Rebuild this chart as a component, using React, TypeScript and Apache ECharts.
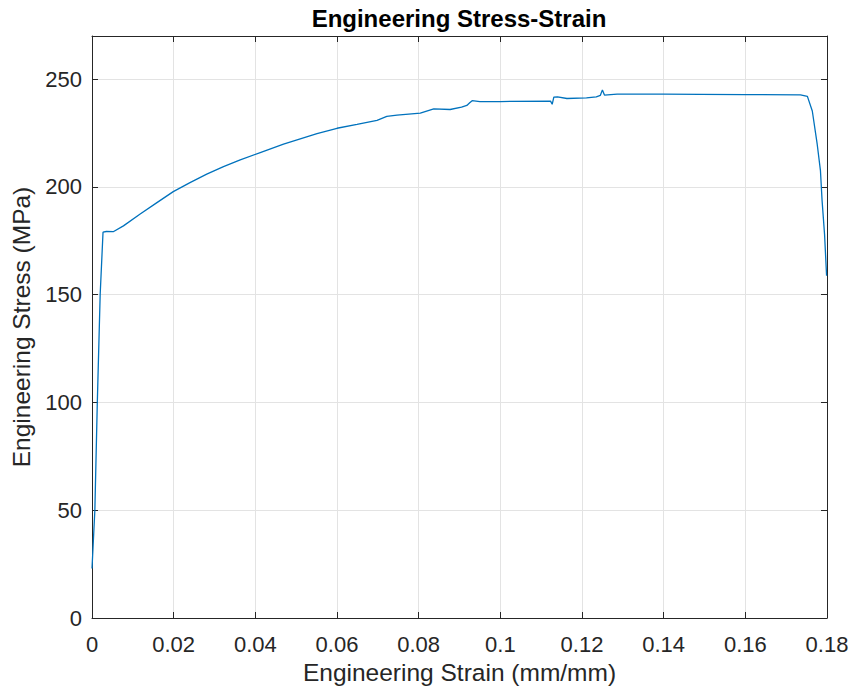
import React, { useEffect, useRef } from "react";
import * as echarts from "echarts";

const strain = [
  0, 0.0007, 0.0013, 0.002, 0.0027, 0.0035, 0.0052, 0.0077, 0.0118, 0.0159,
  0.0199, 0.024, 0.0281, 0.0322, 0.0363, 0.0412, 0.0469, 0.0551, 0.06, 0.0649,
  0.0698, 0.0722, 0.0747, 0.0804, 0.0837, 0.0877, 0.0905, 0.0918, 0.0925, 0.0931,
  0.095, 0.1, 0.1123, 0.1127, 0.1131, 0.114, 0.1163, 0.1211, 0.1235, 0.1245,
  0.125, 0.1255, 0.1286, 0.14, 0.149, 0.16, 0.1735, 0.1752, 0.1764, 0.1776,
  0.1784, 0.1788, 0.1794, 0.1799,
];
const stress = [
  23, 50, 100, 150, 179, 179.3, 179.2, 181.9, 187.4, 192.7,
  197.8, 202, 205.9, 209.4, 212.5, 215.9, 219.8, 224.7, 227.2, 229,
  230.9, 232.7, 233.3, 234.2, 236.2, 235.9, 237, 237.8, 239, 240,
  239.6, 239.6, 239.8, 238.3, 241.6, 241.8, 241, 241.3, 241.8, 242.5,
  245, 242.6, 243, 243, 242.9, 242.8, 242.7, 242, 235.2, 219.8,
  207.4, 193.5, 178, 158.8,
];
const xTicks = ["0", "0.02", "0.04", "0.06", "0.08", "0.1", "0.12", "0.14", "0.16", "0.18"];
const yTicks = ["0", "50", "100", "150", "200", "250"];

const titleText = "Engineering Stress-Strain";
const xName = "Engineering Strain (mm/mm)";
const yName = "Engineering Stress (MPa)";

const FONT = "'Liberation Sans', Arial, Helvetica, sans-serif";
const TXT = "#262626";

export default function App() {
  const ref = useRef<HTMLDivElement>(null);
  useEffect(() => {
    if (!ref.current) return;
    const chart = echarts.init(ref.current, undefined, { renderer: "svg" });
    const data = strain.map((s, i) => [s, stress[i]]);
    const xLabel = (v: number) => {
      const idx = Math.round(v / 0.02);
      return Math.abs(v - idx * 0.02) < 1e-9 && xTicks[idx] !== undefined ? xTicks[idx] : "";
    };
    const yLabel = (v: number) => {
      const idx = Math.round(v / 50);
      return Math.abs(v - idx * 50) < 1e-9 && yTicks[idx] !== undefined ? yTicks[idx] : "";
    };
    const axisLine = { show: true, onZero: false, lineStyle: { color: TXT, width: 1 } };
    const tick = { show: true, inside: true, length: 6, lineStyle: { color: TXT, width: 1 } };
    chart.setOption({
      animation: false,
      backgroundColor: "#ffffff",
      grid: { left: 92, right: 26, top: 36, bottom: 76, containLabel: false },
      graphic: [
        {
          type: "text",
          x: 459,
          y: 18,
          style: {
            text: titleText,
            fill: "#000000",
            font: `bold 24px ${FONT}`,
            textAlign: "center",
            textVerticalAlign: "middle",
          },
        },
      ],
      xAxis: [
        {
          type: "value",
          min: 0,
          max: 0.18,
          interval: 0.02,
          position: "bottom",
          name: xName,
          nameLocation: "middle",
          nameGap: 42,
          nameTextStyle: { color: TXT, fontSize: 24.5, fontFamily: FONT },
          axisLine,
          axisTick: tick,
          axisLabel: {
            color: TXT,
            fontSize: 22,
            fontFamily: FONT,
            margin: 15,
            showMaxLabel: true,
            showMinLabel: true,
            formatter: xLabel,
          },
          splitLine: { show: true, lineStyle: { color: "#e3e3e3", width: 1 } },
        },
        {
          type: "value",
          min: 0,
          max: 0.18,
          interval: 0.02,
          position: "top",
          axisLine,
          axisTick: tick,
          axisLabel: { show: false },
          splitLine: { show: false },
        },
      ],
      yAxis: [
        {
          type: "value",
          min: 0,
          max: 270,
          interval: 50,
          position: "left",
          name: yName,
          nameLocation: "middle",
          nameGap: 55,
          nameTextStyle: { color: TXT, fontSize: 24.5, fontFamily: FONT },
          axisLine,
          axisTick: tick,
          axisLabel: {
            color: TXT,
            fontSize: 22,
            fontFamily: FONT,
            margin: 10,
            formatter: yLabel,
          },
          splitLine: { show: true, lineStyle: { color: "#e3e3e3", width: 1 } },
        },
        {
          type: "value",
          min: 0,
          max: 270,
          interval: 50,
          position: "right",
          axisLine,
          axisTick: tick,
          axisLabel: { show: false },
          splitLine: { show: false },
        },
      ],
      series: [
        {
          type: "line",
          data,
          showSymbol: false,
          symbol: "none",
          lineStyle: { color: "#0072BD", width: 1.3 },
          xAxisIndex: 0,
          yAxisIndex: 0,
        },
      ],
    });
    return () => chart.dispose();
  }, []);
  return <div ref={ref} style={{ width: 853, height: 694, position: "absolute", left: 0, top: 0 }} />;
}
